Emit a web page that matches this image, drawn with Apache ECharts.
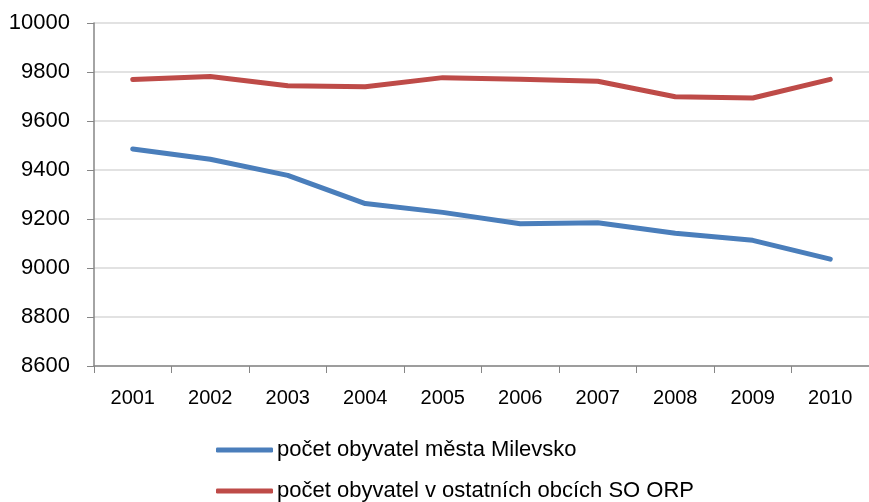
<!DOCTYPE html>
<html>
<head>
<meta charset="utf-8">
<script src="https://cdn.jsdelivr.net/npm/echarts@6/dist/echarts.min.js"></script>
<style>
html, body { margin: 0; padding: 0; background: #fff; }
#chart { width: 869px; height: 502px; }
</style>
</head>
<body>
<div id="chart"></div>
<script>
var years = ['2001', '2002', '2003', '2004', '2005', '2006', '2007', '2008', '2009', '2010'];
var milevsko = [9486, 9444, 9378, 9263, 9227, 9181, 9185, 9142, 9113, 9036];
var ostatni = [9769, 9782, 9744, 9740, 9777, 9770, 9762, 9699, 9694, 9770];
var nameMilevsko = 'počet obyvatel města Milevsko';
var nameOstatni = 'počet obyvatel v ostatních obcích SO ORP';

var myChart = echarts.init(document.getElementById('chart'));

// one legend per row, so they stack like the original
function makeLegend(name, top) {
    return {
        orient: 'vertical',
        left: 216,
        top: top,
        padding: 0,
        itemWidth: 57,
        itemHeight: 5,
        icon: 'roundRect',
        textStyle: {
            fontFamily: 'Liberation Sans, Arial, sans-serif',
            fontSize: 22,
            color: '#000',
            padding: [0, 0, 0, -1]
        },
        data: [name]
    };
}

var option = {
    animation: false,
    backgroundColor: '#fff',
    grid: {
        left: 94,
        top: 23,
        right: -7,
        bottom: 136
    },
    legend: [
        makeLegend(nameMilevsko, 439),
        makeLegend(nameOstatni, 480)
    ],
    xAxis: {
        type: 'category',
        data: years,
        boundaryGap: true,
        axisLine: { lineStyle: { color: '#868686', width: 1.5 } },
        axisTick: { show: true, length: 7, lineStyle: { color: '#868686' } },
        axisLabel: {
            margin: 22,
            fontFamily: 'Liberation Sans Narrow, Arial Narrow, Liberation Sans, sans-serif',
            fontSize: 20,
            color: '#000'
        }
    },
    yAxis: {
        type: 'value',
        min: 8600,
        max: 10000,
        interval: 200,
        axisLine: { show: true, lineStyle: { color: '#868686', width: 1.5 } },
        axisTick: { show: true, length: 7, lineStyle: { color: '#868686' } },
        splitLine: { lineStyle: { color: '#d9d9d9', width: 1.5 } },
        axisLabel: {
            margin: 24,
            fontFamily: 'Liberation Sans, Arial, sans-serif',
            fontSize: 22,
            color: '#000',
            formatter: function (v) { return String(v); }
        }
    },
    series: [
        {
            name: nameMilevsko,
            type: 'line',
            data: milevsko,
            symbol: 'none',
            lineStyle: { color: '#4a7ebb', width: 5, cap: 'round', join: 'round' },
            itemStyle: { color: '#4a7ebb' }
        },
        {
            name: nameOstatni,
            type: 'line',
            data: ostatni,
            symbol: 'none',
            lineStyle: { color: '#be4b48', width: 5, cap: 'round', join: 'round' },
            itemStyle: { color: '#be4b48' }
        }
    ]
};

myChart.setOption(option);
</script>
</body>
</html>
